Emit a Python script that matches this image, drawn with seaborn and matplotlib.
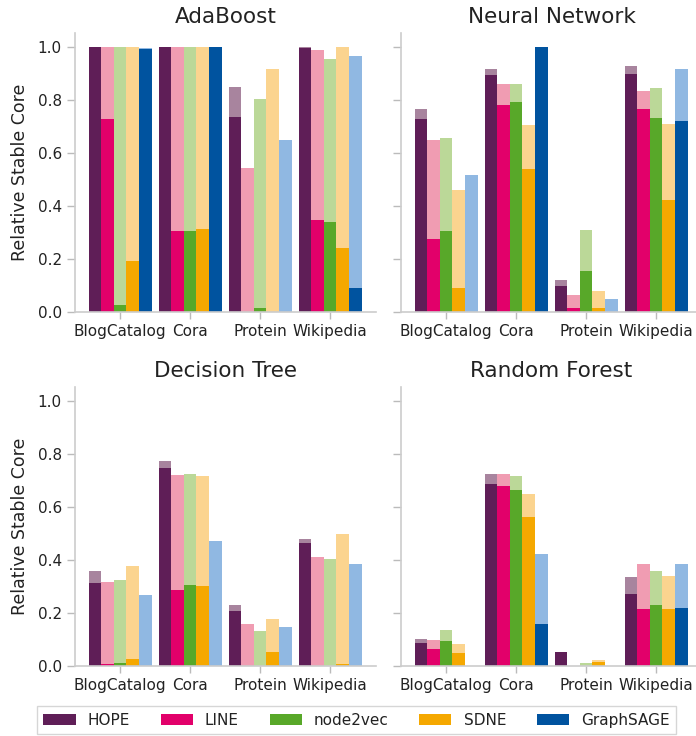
import matplotlib
matplotlib.use("Agg")
import matplotlib.pyplot as plt
from matplotlib.patches import Patch
import numpy as np
import pandas as pd
import seaborn as sns

datasets = ["BlogCatalog", "Cora", "Protein", "Wikipedia"]
methods = ["HOPE", "LINE", "node2vec", "SDNE", "GraphSAGE"]

# rows: datasets, columns: methods
adaboost_full = [
    [1.000, 1.000, 1.000, 1.000, 0.997],
    [1.000, 1.000, 1.000, 1.000, 1.000],
    [0.849, 0.545, 0.804, 0.917, 0.650],
    [1.000, 0.989, 0.955, 1.000, 0.966],
]
adaboost_stable = [
    [1.000, 0.729, 0.025, 0.194, 0.993],
    [1.000, 0.307, 0.304, 0.315, 1.000],
    [0.737, 0.000, 0.014, 0.000, 0.000],
    [0.997, 0.349, 0.341, 0.240, 0.089],
]
neural_full = [
    [0.767, 0.650, 0.657, 0.462, 0.518],
    [0.917, 0.861, 0.861, 0.706, 1.000],
    [0.119, 0.066, 0.311, 0.078, 0.048],
    [0.928, 0.834, 0.846, 0.710, 0.917],
]
neural_stable = [
    [0.729, 0.277, 0.304, 0.089, 0.000],
    [0.895, 0.782, 0.793, 0.541, 1.000],
    [0.097, 0.014, 0.153, 0.014, 0.000],
    [0.898, 0.767, 0.733, 0.424, 0.721],
]
tree_full = [
    [0.357, 0.315, 0.323, 0.376, 0.266],
    [0.771, 0.719, 0.722, 0.715, 0.470],
    [0.229, 0.157, 0.131, 0.176, 0.146],
    [0.477, 0.410, 0.402, 0.496, 0.383],
]
tree_stable = [
    [0.312, 0.006, 0.010, 0.025, 0.000],
    [0.745, 0.285, 0.304, 0.300, 0.000],
    [0.206, 0.000, 0.000, 0.052, 0.000],
    [0.462, 0.000, 0.000, 0.006, 0.000],
]
forest_full = [
    [0.101, 0.097, 0.134, 0.082, 0.000],
    [0.722, 0.722, 0.715, 0.647, 0.421],
    [0.052, 0.000, 0.010, 0.021, 0.000],
    [0.334, 0.383, 0.357, 0.338, 0.383],
]
forest_stable = [
    [0.085, 0.063, 0.093, 0.048, 0.000],
    [0.685, 0.677, 0.662, 0.560, 0.157],
    [0.052, 0.000, 0.000, 0.014, 0.000],
    [0.270, 0.214, 0.229, 0.214, 0.217],
]

classifiers = ["AdaBoost", "Neural Network", "Decision Tree", "Random Forest"]
full_values = [adaboost_full, neural_full, tree_full, forest_full]
stable_values = [adaboost_stable, neural_stable, tree_stable, forest_stable]

dark_colors = ["#5f1e57", "#e2006a", "#58a829", "#f5a800", "#00539f"]
light_colors = ["#a8849e", "#f09cb2", "#bbd898", "#fbd48f", "#90b8e2"]

sns.set_style("ticks")
plt.rcParams.update({
    "font.family": ["DejaVu Sans"],
    "axes.edgecolor": "#cccccc",
    "axes.linewidth": 1.2,
    "xtick.color": "#bbbbbb",
    "ytick.color": "#bbbbbb",
    "xtick.labelcolor": "#222222",
    "ytick.labelcolor": "#222222",
    "xtick.labelsize": 11,
    "ytick.labelsize": 11,
    "text.color": "#222222",
    "axes.labelcolor": "#222222",
})


def long_frame(values):
    rows = []
    for i, d in enumerate(datasets):
        for j, m in enumerate(methods):
            rows.append({"dataset": d, "method": m, "value": values[i][j]})
    return pd.DataFrame(rows)


fig = plt.figure(figsize=(6.96, 7.36), dpi=100)
W, H = 696.0, 736.0
ax_w = 301 / W
ax_h = 279 / H
lefts = [75 / W, 401 / W]
bottoms = [1 - 312 / H, 1 - 665.7 / H]

for k, name in enumerate(classifiers):
    r, c = divmod(k, 2)
    ax = fig.add_axes([lefts[c], bottoms[r], ax_w, ax_h])
    for vals, pal in ((full_values[k], light_colors), (stable_values[k], dark_colors)):
        sns.barplot(data=long_frame(vals), x="dataset", y="value", hue="method",
                    order=datasets, hue_order=methods, palette=pal,
                    width=0.9, saturation=1, errorbar=None, legend=False,
                    linewidth=0, ax=ax)
    ax.set_xlim(-0.643, 3.657)
    ax.set_ylim(0, 1.053)
    ax.set_yticks([0.0, 0.2, 0.4, 0.6, 0.8, 1.0])
    ax.set_xlabel("")
    ax.set_title(name, fontsize=15.5, pad=7)
    ax.tick_params(axis="y", length=6, width=1)
    ax.tick_params(axis="x", length=5, width=1)
    sns.despine(ax=ax)
    if c == 0:
        ax.set_ylabel("Relative Stable Core", fontsize=12.5, labelpad=6)
    else:
        ax.set_ylabel("")
        ax.tick_params(axis="y", labelleft=False)

handles = [Patch(facecolor=col, edgecolor="none", label=m)
           for m, col in zip(methods, dark_colors)]
fig.legend(handles=handles, loc="lower center", ncol=5,
           bbox_to_anchor=(356.5 / W, 0.0), fontsize=11, frameon=True,
           fancybox=False, edgecolor="#cccccc", handlelength=2.1,
           handleheight=0.7, handletextpad=0.8, columnspacing=2.0,
           borderpad=0.45, borderaxespad=0.1)

fig.savefig("out.png", dpi=100)
